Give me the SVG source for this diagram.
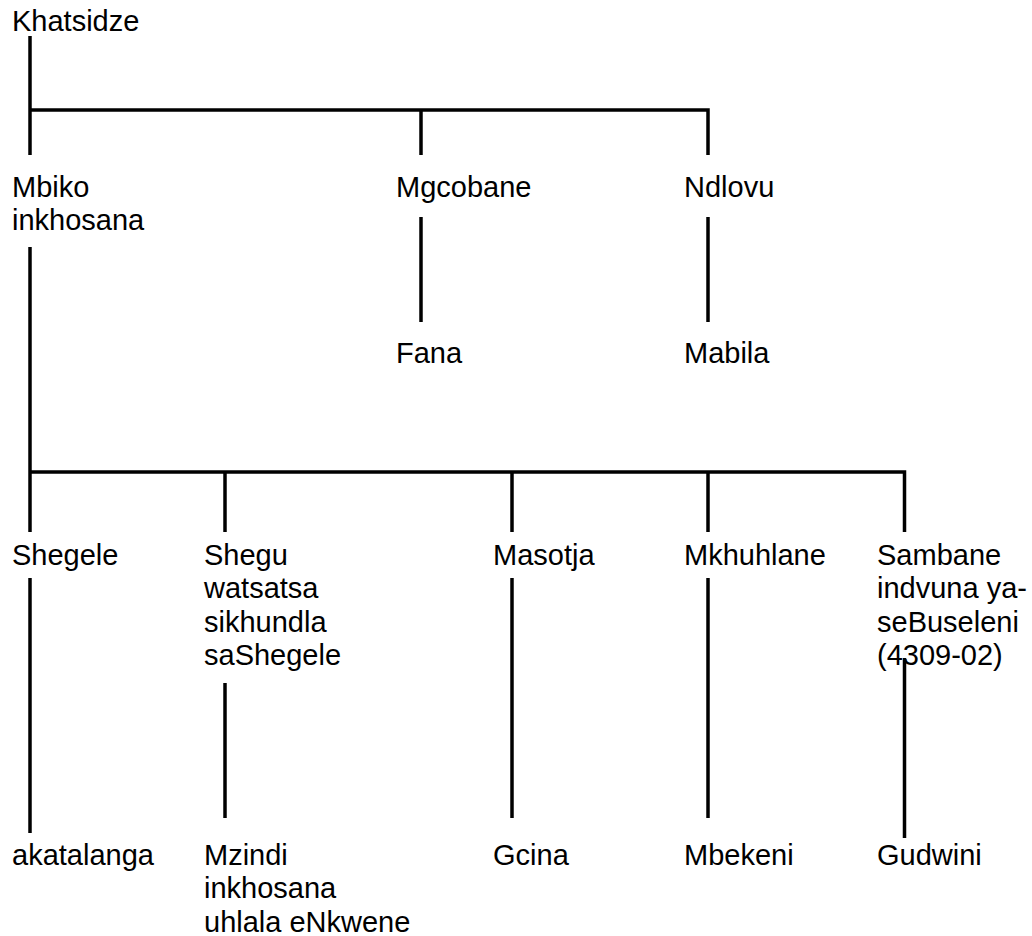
<svg xmlns="http://www.w3.org/2000/svg" width="1032" height="936" viewBox="0 0 1032 936">
<style>
text{font-family:"Liberation Sans",Arial,sans-serif;font-size:29px;fill:#000}
.c path{fill:none;stroke:#000;stroke-width:3.5;stroke-linejoin:miter}
</style>
<rect width="1032" height="936" fill="#fff"/>
<g class="c" id="connectors">
<path d="M30,36 V155"/>
<path d="M30,110 H708 V155"/>
<path d="M421,110 V155"/>
<path d="M421,217 V322"/>
<path d="M708,217 V322"/>
<path d="M30,247 V532"/>
<path d="M30,472 H904.5 V532"/>
<path d="M225,472 V532"/>
<path d="M512,472 V532"/>
<path d="M708,472 V532"/>
<path d="M30,578 V833"/>
<path d="M225,683 V818"/>
<path d="M512,578 V818"/>
<path d="M708,578 V818"/>
<path d="M904.5,658 V838"/>
</g>
<g id="n-khatsidze"><text x="12" y="31">Khatsidze</text></g>
<g id="n-mbiko"><text x="12" y="197"><tspan x="12">Mbiko</tspan><tspan x="12" dy="33.35">inkhosana</tspan></text></g>
<g id="n-mgcobane"><text x="396" y="197">Mgcobane</text></g>
<g id="n-ndlovu"><text x="684" y="197">Ndlovu</text></g>
<g id="n-fana"><text x="396" y="363">Fana</text></g>
<g id="n-mabila"><text x="684" y="363">Mabila</text></g>
<g id="n-shegele"><text x="12" y="565">Shegele</text></g>
<g id="n-shegu"><text x="204" y="565"><tspan x="204">Shegu</tspan><tspan x="204" dy="33.35">watsatsa</tspan><tspan x="204" dy="33.35">sikhundla</tspan><tspan x="204" dy="33.35">saShegele</tspan></text></g>
<g id="n-masotja"><text x="493" y="565">Masotja</text></g>
<g id="n-mkhuhlane"><text x="684" y="565">Mkhuhlane</text></g>
<g id="n-sambane"><text x="877" y="565"><tspan x="877">Sambane</tspan><tspan x="877" dy="33.35">indvuna ya-</tspan><tspan x="877" dy="33.35">seBuseleni</tspan><tspan x="877" dy="33.35">(4309-02)</tspan></text></g>
<g id="n-akatalanga"><text x="12" y="865">akatalanga</text></g>
<g id="n-mzindi"><text x="204" y="865"><tspan x="204">Mzindi</tspan><tspan x="204" dy="33.35">inkhosana</tspan><tspan x="204" dy="33.35">uhlala eNkwene</tspan></text></g>
<g id="n-gcina"><text x="493" y="865">Gcina</text></g>
<g id="n-mbekeni"><text x="684" y="865">Mbekeni</text></g>
<g id="n-gudwini"><text x="877" y="865">Gudwini</text></g>
</svg>
